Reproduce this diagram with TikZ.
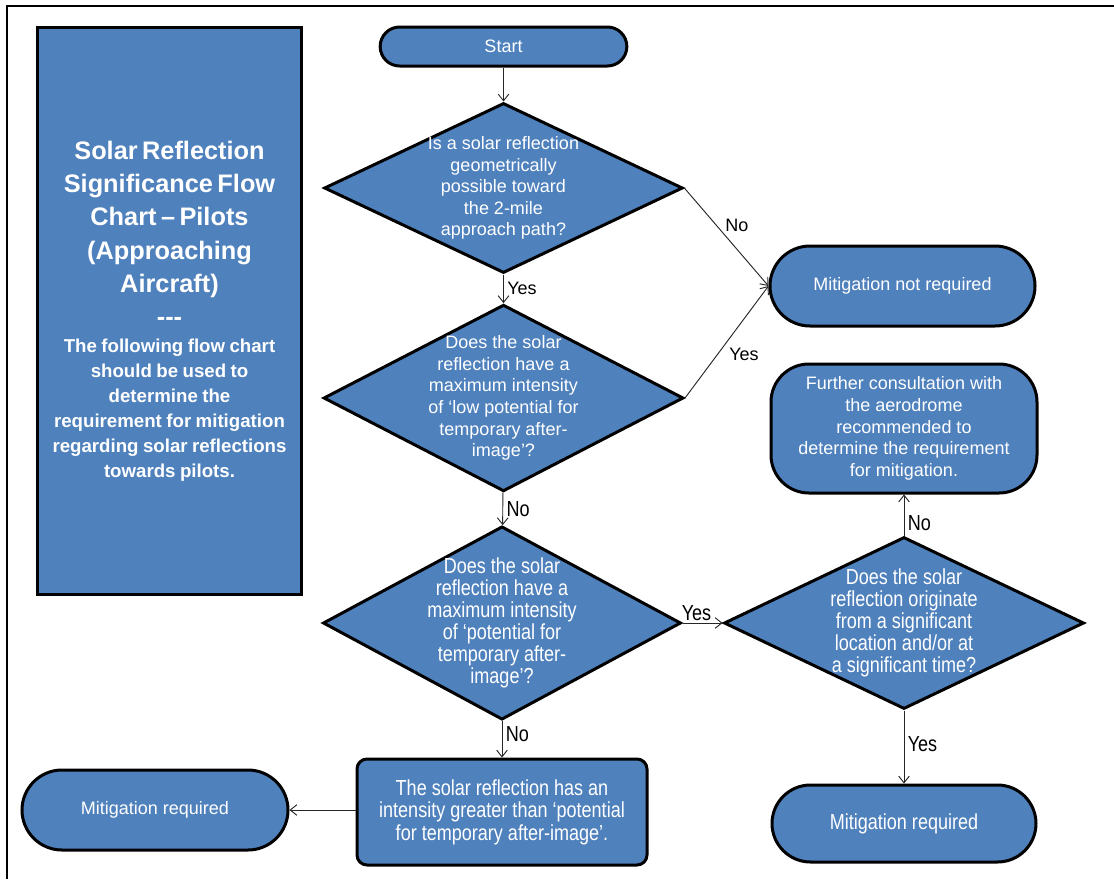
\documentclass[tikz,border=0pt]{standalone}
\usepackage{fontspec}
\setmainfont{Liberation Sans}
\newfontfamily\narrowfont{Liberation Sans}[FakeStretch=0.83]
\usetikzlibrary{shapes.geometric,arrows.meta}
\definecolor{fcblue}{RGB}{79,129,189}
\tikzset{
  blueshape/.style={draw=black, line width=2.25pt, fill=fcblue, text=white, align=center},
  regtext/.style={font=\fontsize{13.5pt}{16.2pt}\selectfont},
  narrowtext/.style={font=\fontsize{16.3pt}{16.6pt}\narrowfont},
  decision/.style={blueshape, diamond, inner sep=-40pt},
  terminal/.style={blueshape, rectangle, inner sep=0pt},
  conn/.style={draw=black!85, line width=0.7pt, -{Straight Barb[length=5pt,width=8pt]}},
  lbl/.style={regtext, text=black, inner sep=2.5pt},
  nlbl/.style={narrowtext, text=black, inner sep=2.5pt},
}
\begin{document}
\begin{tikzpicture}[x=0.75pt,y=-0.75pt]
\useasboundingbox (0,0) rectangle (1114,879);
% page frame
\draw[line width=1pt] (7,879) -- (7,6) -- (1114,6);

% title box
\node[blueshape, rectangle, inner sep=0pt, minimum width=198pt, minimum height=425pt, text width=195pt] (title) at (169.5,311)
 {{\fontsize{19pt}{25pt}\bfseries Solar Reflection\\Significance Flow\\Chart – Pilots\\(Approaching\\Aircraft)\\\mbox{-}\mbox{-}\mbox{-}\par}\vspace{1pt}
  {\fontsize{14pt}{18.75pt}\bfseries The following flow chart\\should be used to\\determine the\\requirement for mitigation\\regarding solar reflections\\towards pilots.\par}};

% nodes
\node[terminal, regtext, minimum width=185pt, minimum height=29.25pt, rounded corners=14.6pt] (start) at (503.5,46.5) {Start};

\node[decision, regtext, minimum width=269pt, minimum height=127.5pt] (d1) at (503.5,188)
 {Is a solar reflection\\geometrically\\possible toward\\the 2-mile\\approach path?};

\node[decision, regtext, minimum width=270pt, minimum height=140pt] (d2) at (503.5,398)
 {Does the solar\\reflection have a\\maximum intensity\\of ‘low potential for\\temporary after-\\image’?};

\node[decision, narrowtext, minimum width=268.5pt, minimum height=145pt] (d3) at (502,623)
 {Does the solar\\reflection have a\\maximum intensity\\of ‘potential for\\temporary after-\\image’?};

\node[decision, narrowtext, minimum width=270pt, minimum height=129pt] (d4) at (904,623)
 {Does the solar\\reflection originate\\from a significant\\location and/or at\\a significant time?};

\node[terminal, regtext, minimum width=198.75pt, minimum height=60pt, rounded corners=30pt] (notreq) at (902.5,286)
 {Mitigation not required};

\node[terminal, regtext, minimum width=199.5pt, minimum height=96.75pt, rounded corners=28.5pt] (further) at (904,428.5)
 {Further consultation with\\the aerodrome\\recommended to\\determine the requirement\\for mitigation.};

\node[terminal, narrowtext, minimum width=198pt, minimum height=57.75pt, rounded corners=28.9pt] (mitright) at (904,823.5)
 {Mitigation required};

\node[terminal, narrowtext, minimum width=217.5pt, minimum height=79.5pt, rounded corners=7.5pt, font=\fontsize{16.3pt}{16.9pt}\narrowfont] (box) at (502,812)
 {The solar reflection has an\\intensity greater than ‘potential\\for temporary after-image’.};

\node[terminal, regtext, minimum width=199.5pt, minimum height=60pt, rounded corners=30pt] (mitleft) at (155,810)
 {Mitigation required};

% connectors
\draw[conn] (start) -- (d1);
\draw[conn] (d1) -- node[lbl, midway, anchor=west] (l1) {Yes} (d2);
\draw[conn] (d1.east) -- node[lbl, pos=0.38, anchor=west, xshift=4pt] (l2) {No} (notreq.west);
\draw[conn] (d2.east) -- node[lbl, pos=0.39, anchor=west, xshift=6pt] (l3) {Yes} (notreq.west);
\draw[conn] (d2) -- node[nlbl, midway, anchor=west] (l4) {No} (d3);
\draw[conn] (d3.east) -- node[nlbl, pos=0.35, anchor=south, inner sep=1pt] (l5) {Yes} (d4.west);
\draw[conn] (d3) -- node[nlbl, pos=0.37, anchor=west] (l6) {No} (box);
\draw[conn] (d4) -- node[nlbl, pos=0.3, anchor=west] (l7) {No} (further);
\draw[conn] (d4) -- node[nlbl, pos=0.46, anchor=west] (l8) {Yes} (mitright);
\draw[conn] (box.west |- mitleft.east) -- (mitleft.east);
\end{tikzpicture}
\end{document}
